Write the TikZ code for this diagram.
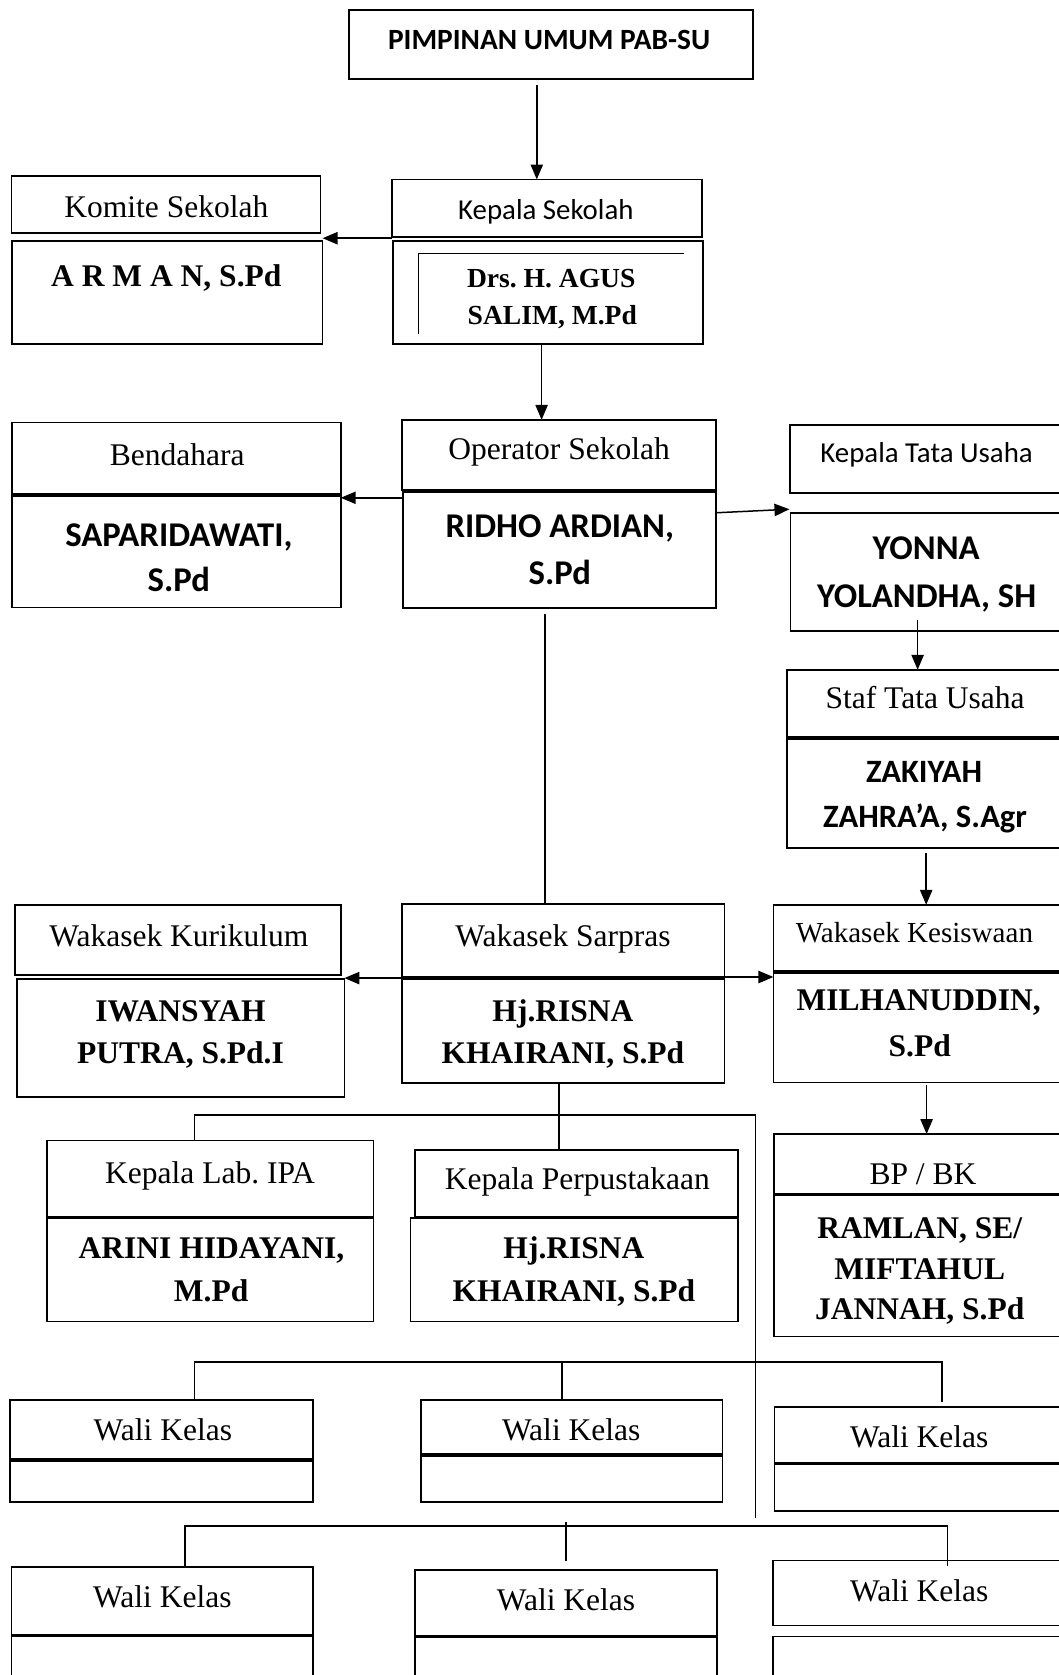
\documentclass[tikz,border=0pt]{standalone}
\usepackage{fontspec}
\setmainfont{Liberation Serif}
\newfontfamily\carl{Carlito}
\usetikzlibrary{arrows.meta}
\frenchspacing
\tikzset{
  box/.style={draw=black, line width=1.6pt, inner sep=0pt, outer sep=0pt, fill=white},
  ln/.style={draw=black, line width=1.4pt},
  thin/.style={draw=black, line width=1.2pt},
  arr/.style={ln, -{Triangle[length=14pt,width=11.5pt]}},
  tr/.style={inner sep=0pt, anchor=base, font=\fontsize{29.5}{35}\selectfont},
  trs/.style={inner sep=0pt, anchor=base, font=\fontsize{27.2}{33}\selectfont},
  trb/.style={inner sep=0pt, anchor=base, font=\fontsize{29.5}{35}\selectfont\bfseries},
  trbs/.style={inner sep=0pt, anchor=base, font=\fontsize{25.8}{31}\selectfont\bfseries},
  ca/.style={inner sep=0pt, anchor=base, font=\carl\fontsize{27}{33}\selectfont},
  cab/.style={inner sep=0pt, anchor=base, font=\carl\bfseries\fontsize{32.5}{39}\selectfont},
  cabs/.style={inner sep=0pt, anchor=base, font=\carl\bfseries\fontsize{30.5}{37}\selectfont},
  cabt/.style={inner sep=0pt, anchor=base, font=\carl\bfseries\fontsize{27.5}{33}\selectfont},
}
\newcommand{\bx}[5]{\node[box, anchor=north west, minimum width={#4-#2}, minimum height={#5-#3}] (#1) at (#2,#3) {};}
\begin{document}
\begin{tikzpicture}[x=1pt,y=-1pt]
\useasboundingbox (0,0) rectangle (991.3,1568);
\fill[white] (0,0) rectangle (991.3,1568);
\begin{scope}
\clip (0,0) rectangle (991.3,1568);
% boxes
\bx{pimp}{327}{9.4}{705}{74}
\bx{kepT}{367}{168}{657}{221.6}
\bx{kepN}{368}{225.6}{658}{322}
\bx{komT}{10.9}{164.7}{300}{218.4}
\bx{komN}{11}{225.6}{302}{322.3}
\bx{opT}{376}{393}{670}{458.6}
\bx{opN}{377}{460.5}{670}{569}
\bx{benT}{11.4}{395.6}{319}{462.4}
\bx{benN}{11.4}{464}{319}{568.8}
\bx{ktuT}{739.6}{397.8}{1010}{461.6}
\bx{ktuN}{740}{480}{1010}{591}
\bx{stT}{736.7}{627}{1010}{690}
\bx{stN}{736.7}{692}{1010}{793.8}
\bx{wkkT}{13.9}{847}{319.3}{912.6}
\bx{wkkN}{15.8}{916.4}{322.4}{1026.8}
\bx{wsT}{376}{846}{678.3}{914.6}
\bx{wsN}{376}{916.7}{678.3}{1013.9}
\bx{wksT}{724}{847}{1010}{909}
\bx{wksN}{724}{911}{1010}{1013.4}
\bx{labT}{44.3}{1067.7}{349.6}{1139}
\bx{labN}{44.3}{1140.5}{349.6}{1237}
\bx{perT}{388.5}{1076.4}{691}{1138.8}
\bx{perN}{384.4}{1140.3}{691}{1237}
\bx{bpT}{724.8}{1061.6}{1010}{1117.6}
\bx{bpN}{724.8}{1119}{1010}{1251.2}
\bx{wkaT}{9.5}{1310.4}{292.7}{1366}
\bx{wkaN}{9.5}{1367.5}{292.7}{1406}
\bx{wkbT}{393.9}{1310.4}{676.4}{1361}
\bx{wkbN}{393.9}{1363}{676.4}{1406}
\bx{wkcT}{725}{1317.3}{1010}{1369.7}
\bx{wkcN}{725}{1371}{1010}{1414.6}
\bx{wkdT}{10.7}{1466.8}{292.7}{1530.4}
\bx{wkdN}{10.7}{1532}{292.7}{1610}
\bx{wkeT}{388.8}{1470}{671.4}{1531}
\bx{wkeN}{388.8}{1532.5}{671.4}{1610}
\bx{wkfT}{723.8}{1460.8}{1010}{1521.7}
\bx{wkfN}{723.8}{1532}{1010}{1610}
% inner lines of Kepala name box
\coordinate (k1) at (640,237);
\coordinate (k2) at (392,237);
\coordinate (k3) at (392,312.8);
\draw[thin] (k1) -- (k2) -- (k3);
% texts
\node[cabt] (pimpT) at (514,46.3) {PIMPINAN UMUM PAB-SU};
\node[ca] (kepTt) at (511,205.3) {Kepala Sekolah};
\node[trbs] (kepN1) at (516,268.7) {Drs. H. AGUS};
\node[trbs] (kepN2) at (517,303.7) {SALIM, M.Pd};
\node[tr] (komTt) at (155.7,203.2) {Komite Sekolah};
\node[trb] (komN1) at (155.7,268.5) {A R M A N, S.Pd};
\node[tr] (opTt) at (523.4,430) {Operator Sekolah};
\node[cab] (opN1) at (524,503.5) {RIDHO ARDIAN,};
\node[cab] (opN2) at (524,547.5) {S.Pd};
\node[tr] (benTt) at (166,435.8) {Bendahara};
\node[cab] (benN1) at (167.5,511.3) {SAPARIDAWATI,};
\node[cab] (benN2) at (167.5,553.4) {S.Pd};
\node[ca] (ktuTt) at (867.4,432.7) {Kepala Tata Usaha};
\node[cab] (ktuN1) at (867,523.5) {YONNA};
\node[cab] (ktuN2) at (867.4,568.5) {YOLANDHA, SH};
\node[tr] (stTt) at (866,662.8) {Staf Tata Usaha};
\node[cabs] (stN1) at (865,732.8) {ZAKIYAH};
\node[cabs] (stN2) at (866,774.2) {ZAHRA’A, S.Agr};
\node[tr] (wkkTt) at (167.5,885.8) {Wakasek Kurikulum};
\node[trb] (wkkN1) at (169,956) {IWANSYAH};
\node[trb] (wkkN2) at (169,995.7) {PUTRA, S.Pd.I};
\node[tr] (wsTt) at (527,885.8) {Wakasek Sarpras};
\node[trb] (wsN1) at (527,956) {Hj.RISNA};
\node[trb] (wsN2) at (527,996) {KHAIRANI, S.Pd};
\node[trs] (wksTt) at (856,882.5) {Wakasek Kesiswaan};
\node[trb] (wksN1) at (860,946) {MILHANUDDIN,};
\node[trb] (wksN2) at (861,989) {S.Pd};
\node[tr] (labTt) at (196.6,1107.8) {Kepala Lab. IPA};
\node[trb] (labN1) at (198,1178.5) {ARINI HIDAYANI,};
\node[trb] (labN2) at (197.6,1218.5) {M.Pd};
\node[tr] (perTt) at (540.5,1113.8) {Kepala Perpustakaan};
\node[trb] (perN1) at (537.3,1177.8) {Hj.RISNA};
\node[trb] (perN2) at (537.3,1218.4) {KHAIRANI, S.Pd};
\node[tr] (bpTt) at (864,1108.8) {BP / BK};
\node[trb] (bpN1) at (861,1159) {RAMLAN, SE/};
\node[trb] (bpN2) at (861,1198) {MIFTAHUL};
\node[trb] (bpN3) at (861,1235.5) {JANNAH, S.Pd};
\node[tr] (wkaTt) at (152.5,1348) {Wali Kelas};
\node[tr] (wkbTt) at (534.7,1348) {Wali Kelas};
\node[tr] (wkcTt) at (860.5,1354.8) {Wali Kelas};
\node[tr] (wkdTt) at (152,1505) {Wali Kelas};
\node[tr] (wkeTt) at (529.8,1508) {Wali Kelas};
\node[tr] (wkfTt) at (860.5,1498.8) {Wali Kelas};
% connectors
\coordinate (c1) at (502.5,80);
\draw[arr] (c1) -- (c1 |- kepT.north);
\coordinate (c2) at (367,223);
\draw[arr] (c2) -- (c2 -| komN.east);
\coordinate (c3) at (507,322);
\draw[arr] (c3) -- (c3 |- opT.north);
\coordinate (c4) at (376,466);
\draw[arr] (c4) -- (c4 -| benN.east);
\coordinate (c5) at (670.8,480);
\coordinate (c5e) at (739,476.7);
\draw[arr] (c5) -- (c5e);
\coordinate (c6) at (859,580);
\draw[arr] (c6) -- (c6 |- stT.north);
\coordinate (c7) at (867,798.7);
\draw[arr] (c7) -- (c7 |- wksT.north);
\coordinate (c8) at (510,575);
\draw[ln] (c8) -- (c8 |- wsT.north);
\coordinate (c9) at (381,915.6);
\draw[arr] (c9) -- (c9 -| wkkN.east);
\coordinate (c10) at (678.3,914.6);
\draw[arr] (c10) -- (c10 -| wksT.west);
\coordinate (c11) at (867.4,1015.6);
\draw[arr] (c11) -- (c11 |- bpT.north);
% tree under Wakasek Sarpras
\coordinate (t1) at (523.5,1043.6);
\coordinate (t1l) at (182,1043.6);
\coordinate (t1r) at (707,1043.6);
\coordinate (t1b) at (707,1421);
\draw[ln] (t1 |- wsN.south) -- (t1 |- perT.north);
\draw[ln] (t1l |- labT.north) -- (t1l) -- (t1r) -- (t1b);
% Wali Kelas row 1
\coordinate (h1l) at (182,1275);
\coordinate (h1r) at (882,1275);
\coordinate (h1rb) at (882,1312);
\coordinate (h1m) at (526,1273.6);
\draw[ln] (h1l |- wkaT.north) -- (h1l) -- (h1r) -- (h1rb);
\draw[ln] (h1m) -- (h1m |- wkbT.north);
% Wali Kelas row 2
\coordinate (h2l) at (173.3,1428.4);
\coordinate (h2r) at (887,1428.4);
\coordinate (h2rb) at (887,1465.5);
\coordinate (h2m) at (529.8,1425);
\coordinate (h2mb) at (529.8,1461.7);
\draw[ln] (h2l |- wkdT.north) -- (h2l) -- (h2r) -- (h2rb);
\draw[ln] (h2m) -- (h2mb);
\end{scope}
\end{tikzpicture}
\end{document}
